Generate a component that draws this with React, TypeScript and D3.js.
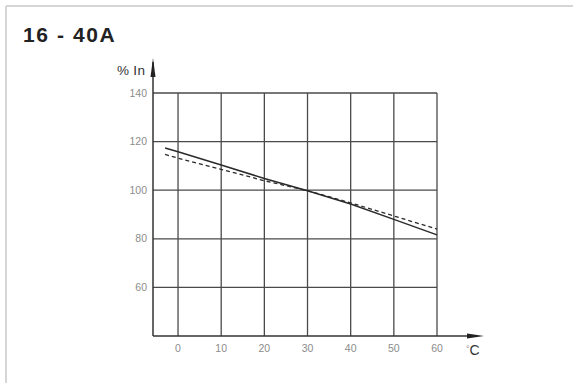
import React from "react";
import * as d3 from "d3";

// Temperature (°C) where each curve was read
const temps = [-3, 0, 10, 20, 30, 40, 50, 60];
// % In, solid curve
const solidValues = [117.4, 115.8, 110.4, 104.8, 99.8, 94.3, 88, 81.6];
// % In, dashed curve
const dashedValues = [114.7, 113.2, 108.6, 103.9, 99.8, 94.8, 89.4, 84];

const xTicks = [0, 10, 20, 30, 40, 50, 60];
const yTicks = [60, 80, 100, 120, 140];

const W = 573;
const H = 383;

const App: React.FC = () => {
  // scales
  const x = d3.scaleLinear().domain([-5.8, 60]).range([153, 437]);
  const y = d3.scaleLinear().domain([40, 140]).range([336, 93]);

  const x0 = x(-5.8);
  const y0 = y(40);

  const line = d3
    .line<number>()
    .x((_, i) => x(temps[i]))
    .y((d) => y(d))
    .curve(d3.curveLinear);

  const gridColor = "#4a4a4a";
  const tickColor = "#8c8c8c";
  const font = "Liberation Sans, Arimo, Arial, sans-serif";

  return (
    <svg
      width={W}
      height={H}
      style={{ position: "absolute", left: 0, top: 0, display: "block", background: "#fff" }}
    >
      {/* frame (left and top only) */}
      <line x1={6} x2={6} y1={6} y2={H} stroke="#c8c8c8" strokeWidth={1.5} />
      <line x1={6} x2={W} y1={6} y2={6} stroke="#c8c8c8" strokeWidth={1.5} />

      <text
        x={23}
        y={42}
        fontFamily={font}
        fontWeight="bold"
        fontSize={21}
        letterSpacing={1.6}
        fill="#222"
      >
        16 - 40A
      </text>

      {/* grid */}
      <g stroke={gridColor} strokeWidth={1.3}>
        {xTicks.map((t) => (
          <line key={"vx" + t} x1={x(t)} x2={x(t)} y1={y(140)} y2={y0} />
        ))}
        {yTicks.map((t) => (
          <line key={"hy" + t} x1={x0} x2={x(60)} y1={y(t)} y2={y(t)} />
        ))}
      </g>

      {/* axes with arrows */}
      <line x1={x0} x2={x0} y1={y0} y2={62} stroke="#333" strokeWidth={1.5} />
      <path d={`M${x0 - 2.5},${77} L${x0},${58} L${x0 + 2.5},${77} Z`} fill="#222" />
      <line x1={x0} x2={470} y1={y0} y2={y0} stroke="#333" strokeWidth={1.5} />
      <path d={`M${467},${y0 - 2.5} L${484},${y0} L${467},${y0 + 2.5} Z`} fill="#222" />

      {/* curves */}
      <path d={line(solidValues) || ""} fill="none" stroke="#2a2a2a" strokeWidth={1.5} />
      <path
        d={line(dashedValues) || ""}
        fill="none"
        stroke="#2a2a2a"
        strokeWidth={1.3}
        strokeDasharray="4,3"
      />

      {/* tick labels */}
      <g fontFamily={font} fontSize={10.5} fill={tickColor}>
        {yTicks.map((t) => (
          <text key={"yl" + t} x={147} y={y(t) + 3.5} textAnchor="end">
            {t}
          </text>
        ))}
        {xTicks.map((t) => (
          <text key={"xl" + t} x={x(t)} y={352} textAnchor="middle">
            {t}
          </text>
        ))}
      </g>

      {/* axis titles */}
      <text x={117} y={75} fontFamily={font} fontSize={13.5} fill="#333" letterSpacing={0.3}>
        % In
      </text>
      <text x={466} y={355} fontFamily={font} fill="#333">
        <tspan fontSize={9} fill={tickColor} dy={-3}>°</tspan>
        <tspan fontSize={14} dy={3}>C</tspan>
      </text>
    </svg>
  );
};

export default App;
